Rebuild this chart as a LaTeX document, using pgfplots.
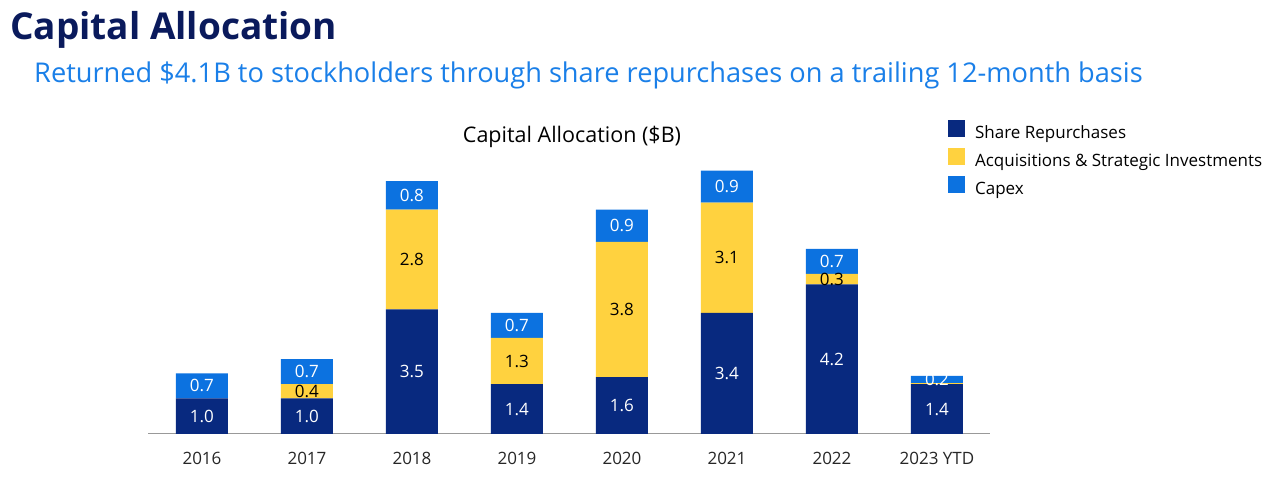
\documentclass[border=0pt]{standalone}
\usepackage{pgfplots}
\pgfplotsset{compat=1.18}
\usepackage{pgfplotstable}
\usepackage{fontspec}
\setmainfont{Open Sans}
\definecolor{navy}{HTML}{08297F}
\definecolor{gold}{HTML}{FFD23F}
\definecolor{capex}{HTML}{0C72E0}
\definecolor{titlec}{HTML}{0A1A5C}
\definecolor{subc}{HTML}{1A7FE8}

\pgfplotstableread{
x y lab
0 1.0 1.0
1 1.0 1.0
2 3.5 3.5
3 1.4 1.4
4 1.6 1.6
5 3.4 3.4
6 4.2 4.2
7 1.4 1.4
}\shares
\pgfplotstableread{
x y lab
0 0.0 {}
1 0.4 0.4
2 2.8 2.8
3 1.3 1.3
4 3.8 3.8
5 3.1 3.1
6 0.3 0.3
7 0.03 {}
}\acq
\pgfplotstableread{
x y lab
0 0.7 0.7
1 0.7 0.7
2 0.8 0.8
3 0.7 0.7
4 0.9 0.9
5 0.9 0.9
6 0.7 0.7
7 0.2 0.2
}\capx

\begin{document}
\begin{tikzpicture}
\useasboundingbox (0,0) rectangle (1280pt,482pt);
\node[anchor=base west, text=titlec, font=\fontsize{37}{40}\selectfont\bfseries, inner sep=0pt] at (10pt,442pt) {Capital Allocation};
\node[anchor=base west, text=subc, font=\fontsize{27.2}{30}\selectfont, inner sep=0pt] at (34pt,399pt) {Returned \$4.1B to stockholders through share repurchases on a trailing 12-month basis};
\node[anchor=center, font=\fontsize{21.5}{24}\selectfont, inner sep=0pt] at (572pt,345pt) {Capital Allocation (\$B)};
\begin{axis}[
  at={(148pt,48pt)}, anchor=south west,
  scale only axis, width=842pt, height=284.8pt,
  xmin=-0.514, xmax=7.505, ymin=0, ymax=8,
  ybar stacked, bar width=52pt,
  axis x line*=bottom, hide y axis,
  x axis line style={draw=black!40, line width=1pt},
  xtick={0,...,7}, xticklabels={2016,2017,2018,2019,2020,2021,2022,2023 YTD},
  major tick length=0pt,
  xticklabel style={font=\fontsize{17}{19}\selectfont, text=black!85, yshift=-15pt},
  point meta=explicit symbolic,
  nodes near coords,
  every node near coord/.style={anchor=center, font=\fontsize{17}{19}\selectfont},
  legend style={at={(0.950,1.105)}, anchor=north west, draw=none, fill=none, inner sep=0pt,
    font=\fontsize{17}{19}\selectfont, row sep=6pt,
    nodes={inner sep=0pt, text height=13pt, text depth=3pt}},
  legend cell align=left,
  legend image code/.code={\fill[#1] (0pt,-3pt) rectangle (17pt,14pt);},
]
\addplot[fill=navy, draw=none, every node near coord/.append style={text=white}] table[meta=lab] {\shares};
\addplot[fill=gold, draw=none, every node near coord/.append style={text=black}] table[meta=lab] {\acq};
\addplot[fill=capex, draw=none, every node near coord/.append style={text=white}] table[meta=lab] {\capx};
\legend{\hspace{10pt}Share Repurchases,\hspace{10pt}Acquisitions \& Strategic Investments,\hspace{10pt}Capex}
\end{axis}
\end{tikzpicture}
\end{document}
